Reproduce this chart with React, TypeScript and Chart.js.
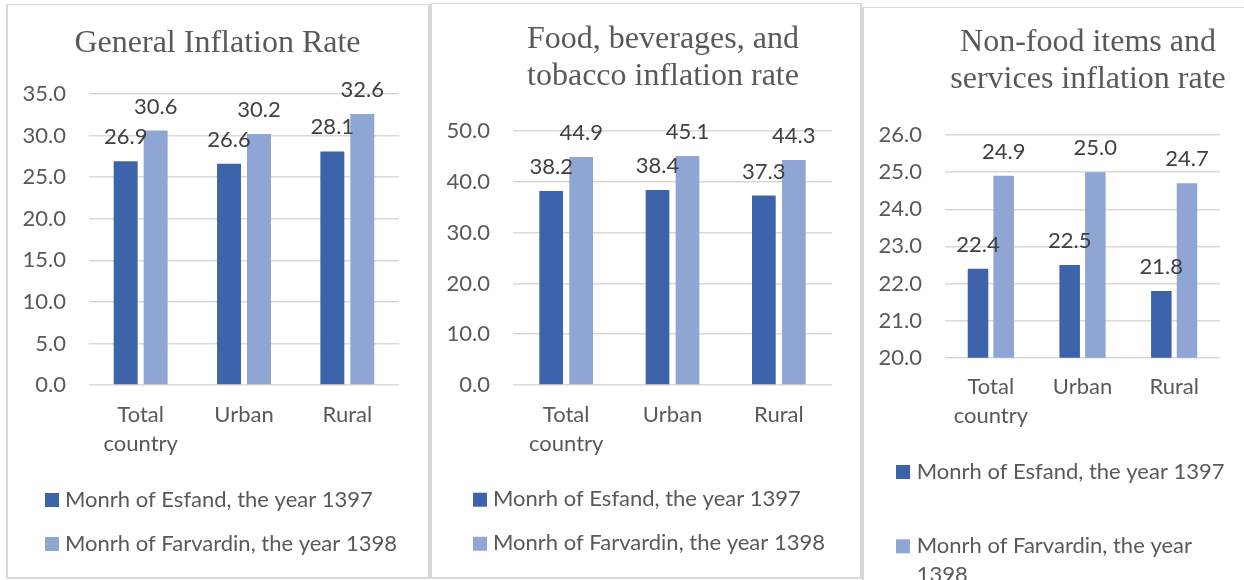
import React, { useEffect, useRef } from "react";
import { Chart, registerables } from "chart.js";

Chart.register(...registerables);

// ---------- data ----------
const categories: (string | string[])[] = [["Total", "country"], "Urban", "Rural"];
const seriesNames = ["Monrh of Esfand, the year 1397", "Monrh of Farvardin, the year 1398"];
const seriesColors = ["#3D64AB", "#8FA5D4"];

const generalTitle = ["General Inflation Rate"];
const generalEsfand = [26.9, 26.6, 28.1];
const generalFarvardin = [30.6, 30.2, 32.6];
const generalAxis = { min: 0, max: 35, step: 5 };

const foodTitle = ["Food, beverages, and", "tobacco inflation rate"];
const foodEsfand = [38.2, 38.4, 37.3];
const foodFarvardin = [44.9, 45.1, 44.3];
const foodAxis = { min: 0, max: 50, step: 10 };

const nonFoodTitle = ["Non-food items and", "services inflation rate"];
const nonFoodEsfand = [22.4, 22.5, 21.8];
const nonFoodFarvardin = [24.9, 25.0, 24.7];
const nonFoodAxis = { min: 20, max: 26, step: 1 };

// ---------- styling ----------
const SANS = "Lato";
const SANS_SIZE = 22;
const TEXT = "#595959";
const LABEL = "#404040";
const GRID = "#d9d9d9";

// ---------- plugins ----------
const titleCenter = {
  id: "titleCenter",
  afterLayout(chart: any, _args: any, opts: any) {
    const tb = chart.titleBlock;
    if (!tb || opts == null || opts.cx == null) return;
    const w = tb.right - tb.left;
    tb.left = opts.cx - w / 2;
    tb.right = opts.cx + w / 2;
  },
};

const valueLabels = {
  id: "valueLabels",
  afterDatasetsDraw(chart: any, _args: any, opts: any) {
    const ctx = chart.ctx;
    ctx.save();
    ctx.font = `${SANS_SIZE}px ${SANS}`;
    ctx.fillStyle = LABEL;
    ctx.textAlign = "center";
    ctx.textBaseline = "alphabetic";
    chart.data.datasets.forEach((ds: any, di: number) => {
      const meta = chart.getDatasetMeta(di);
      meta.data.forEach((bar: any, i: number) => {
        const v = ds.data[i];
        ctx.fillText(Number(v).toFixed(1), bar.x, bar.y - (opts.offset ?? 17));
      });
    });
    ctx.restore();
  },
};

const boxLegend = {
  id: "boxLegend",
  afterDraw(chart: any, _args: any, opts: any) {
    const ctx = chart.ctx;
    ctx.save();
    ctx.font = `${SANS_SIZE}px ${SANS}`;
    ctx.textAlign = "left";
    ctx.textBaseline = "alphabetic";
    chart.data.datasets.forEach((ds: any, di: number) => {
      const top = opts.rows[di];
      ctx.fillStyle = ds.backgroundColor;
      ctx.fillRect(opts.x, top, 14, 14);
      // wrap text
      const words = String(ds.label).split(" ");
      const lines: string[] = [];
      let cur = "";
      words.forEach((w) => {
        const test = cur ? cur + " " + w : w;
        if (cur && ctx.measureText(test).width > opts.maxWidth) {
          lines.push(cur);
          cur = w;
        } else cur = test;
      });
      if (cur) lines.push(cur);
      ctx.fillStyle = TEXT;
      lines.forEach((ln, li) => {
        ctx.fillText(ln, opts.textX, top + 13.5 + li * opts.lineGap);
      });
    });
    ctx.restore();
  },
};

// ---------- panels ----------
type PanelCfg = {
  title: string[];
  esfand: number[];
  farvardin: number[];
  axis: { min: number; max: number; step: number };
  left: number;
  top: number;
  width: number;
  height: number;
  padRight: number;
  padBottom: number;
  titlePadTop: number;
  titlePadBottom: number;
  titleCx: number;
  catPct: number;
  barPct: number;
  legend: { x: number; textX: number; rows: number[]; maxWidth: number; lineGap: number };
};

const panels: PanelCfg[] = [
  {
    title: generalTitle,
    esfand: generalEsfand,
    farvardin: generalFarvardin,
    axis: generalAxis,
    left: 8, top: 6, width: 420, height: 570,
    padRight: 29, padBottom: 111,
    titlePadTop: 18.6, titlePadBottom: 32.3, titleCx: 209.5,
    catPct: 0.58, barPct: 0.8,
    legend: { x: 37, textX: 57, rows: [487, 531], maxWidth: 1000, lineGap: 29 },
  },
  {
    title: foodTitle,
    esfand: foodEsfand,
    farvardin: foodFarvardin,
    axis: foodAxis,
    left: 432, top: 5, width: 428, height: 571,
    padRight: 28, padBottom: 111,
    titlePadTop: 15.6, titlePadBottom: 36.2, titleCx: 231,
    catPct: 0.564, barPct: 0.79,
    legend: { x: 41, textX: 61, rows: [487.7, 531.7], maxWidth: 1000, lineGap: 29 },
  },
  {
    title: nonFoodTitle,
    esfand: nonFoodEsfand,
    farvardin: nonFoodFarvardin,
    axis: nonFoodAxis,
    left: 864, top: 8, width: 380, height: 572,
    padRight: 24, padBottom: 142.3,
    titlePadTop: 15.6, titlePadBottom: 37.2, titleCx: 224,
    catPct: 0.56, barPct: 0.8,
    legend: { x: 32, textX: 52.7, rows: [457, 531.3], maxWidth: 320, lineGap: 29 },
  },
];

const borders = [
  { left: 6, top: 4, width: 424, height: 575 },
  { left: 430, top: 3, width: 432, height: 576 },
  { left: 862, top: 7, width: 400, height: 600 },
];

function ChartPanel({ cfg }: { cfg: PanelCfg }) {
  const ref = useRef<HTMLCanvasElement>(null);
  useEffect(() => {
    if (!ref.current) return;
    const tickFont = { family: SANS, size: SANS_SIZE, lineHeight: 1.32 };
    const chart = new Chart(ref.current, {
      type: "bar",
      data: {
        labels: categories as any,
        datasets: [
          {
            label: seriesNames[0],
            data: cfg.esfand,
            backgroundColor: seriesColors[0],
            categoryPercentage: cfg.catPct,
            barPercentage: cfg.barPct,
          },
          {
            label: seriesNames[1],
            data: cfg.farvardin,
            backgroundColor: seriesColors[1],
            categoryPercentage: cfg.catPct,
            barPercentage: cfg.barPct,
          },
        ],
      },
      options: {
        responsive: false,
        animation: false,
        events: [],
        layout: { padding: { left: 0, right: cfg.padRight, top: 0, bottom: cfg.padBottom } },
        plugins: {
          legend: { display: false },
          tooltip: { enabled: false },
          title: {
            display: true,
            text: cfg.title,
            color: TEXT,
            font: { family: "Liberation Serif", size: 32, weight: "normal" as any, lineHeight: 1.16 },
            padding: { top: cfg.titlePadTop, bottom: cfg.titlePadBottom },
          },
          titleCenter: { cx: cfg.titleCx },
          valueLabels: { offset: 17 },
          boxLegend: cfg.legend,
        } as any,
        scales: {
          x: {
            grid: { display: false, drawTicks: false },
            border: { display: false },
            ticks: { font: tickFont, color: TEXT, padding: 15, maxRotation: 0, autoSkip: false },
            afterFit: (a: any) => {
              a.height = 80;
            },
          },
          y: {
            min: cfg.axis.min,
            max: cfg.axis.max,
            grid: { color: GRID, lineWidth: 1.5, drawTicks: false },
            border: { display: false },
            ticks: {
              stepSize: cfg.axis.step,
              font: tickFont,
              color: TEXT,
              padding: 23,
              callback: (v: any) => Number(v).toFixed(1),
            },
            afterFit: (a: any) => {
              a.width = 81;
            },
          },
        },
      },
      plugins: [titleCenter, valueLabels, boxLegend],
    });
    return () => chart.destroy();
  }, [cfg]);
  return (
    <canvas
      ref={ref}
      width={cfg.width}
      height={cfg.height}
      style={{ position: "absolute", left: cfg.left, top: cfg.top, width: cfg.width, height: cfg.height }}
    />
  );
}

export default function App() {
  return (
    <div
      style={{
        position: "fixed",
        left: 0,
        top: 0,
        width: 1244,
        height: 580,
        background: "#ffffff",
        overflow: "hidden",
      }}
    >
      {borders.map((b, i) => (
        <div
          key={"b" + i}
          style={{
            position: "absolute",
            left: b.left,
            top: b.top,
            width: b.width,
            height: b.height,
            boxSizing: "border-box",
            border: `2px solid ${GRID}`,
            borderTopWidth: 1,
          }}
        />
      ))}
      {panels.map((p, i) => (
        <ChartPanel key={i} cfg={p} />
      ))}
    </div>
  );
}
